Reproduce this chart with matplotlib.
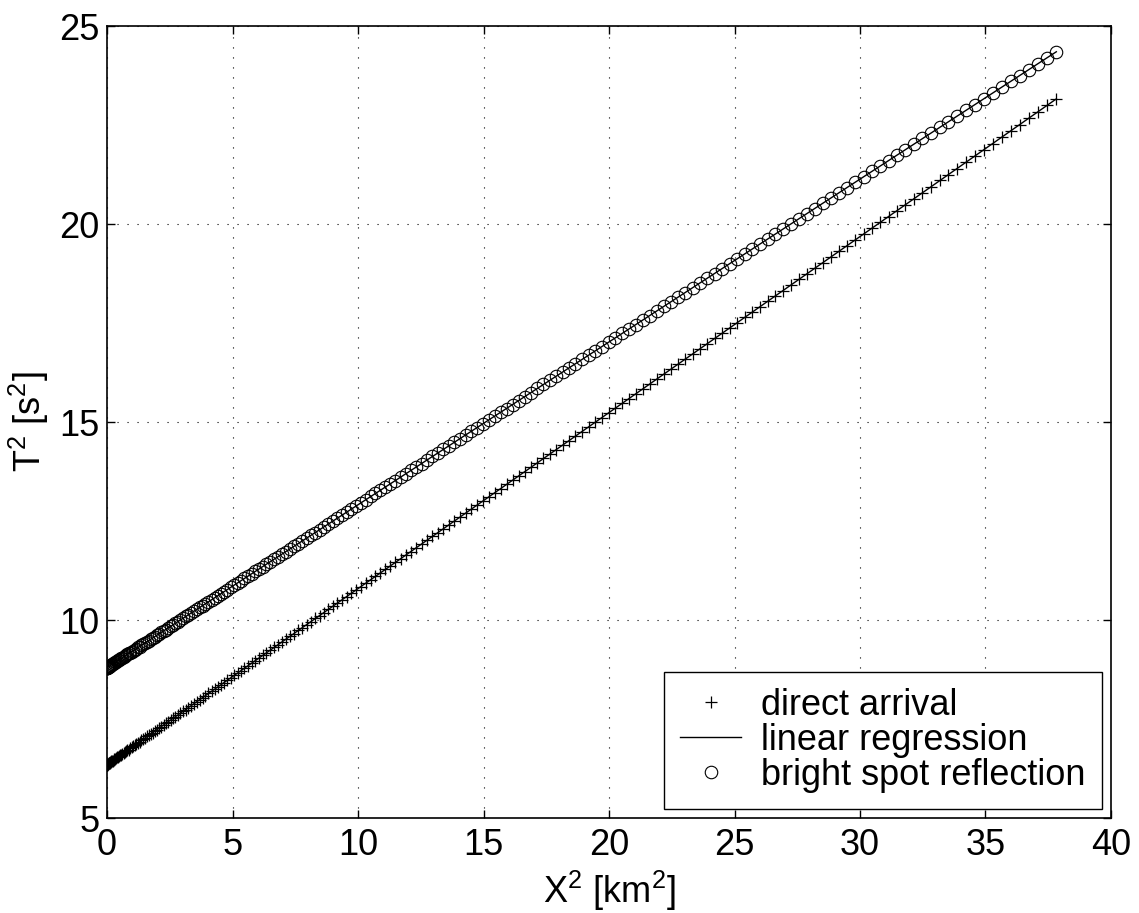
import numpy as np
import matplotlib
matplotlib.use("Agg")
import matplotlib.pyplot as plt

# =============================
# Data
# =============================
# source-receiver offsets [km]
offset_km = [
    0.00, 0.03, 0.06, 0.09, 0.12, 0.15, 0.18, 0.21, 0.24, 0.27,
    0.30, 0.33, 0.36, 0.39, 0.42, 0.45, 0.48, 0.51, 0.54, 0.57,
    0.60, 0.63, 0.66, 0.69, 0.72, 0.75, 0.78, 0.81, 0.84, 0.87,
    0.90, 0.93, 0.96, 0.99, 1.02, 1.05, 1.08, 1.11, 1.14, 1.17,
    1.20, 1.23, 1.26, 1.29, 1.32, 1.35, 1.38, 1.41, 1.44, 1.47,
    1.50, 1.53, 1.56, 1.59, 1.62, 1.65, 1.68, 1.71, 1.74, 1.77,
    1.80, 1.83, 1.86, 1.89, 1.92, 1.95, 1.98, 2.01, 2.04, 2.07,
    2.10, 2.13, 2.16, 2.19, 2.22, 2.25, 2.28, 2.31, 2.34, 2.37,
    2.40, 2.43, 2.46, 2.49, 2.52, 2.55, 2.58, 2.61, 2.64, 2.67,
    2.70, 2.73, 2.76, 2.79, 2.82, 2.85, 2.88, 2.91, 2.94, 2.97,
    3.00, 3.03, 3.06, 3.09, 3.12, 3.15, 3.18, 3.21, 3.24, 3.27,
    3.30, 3.33, 3.36, 3.39, 3.42, 3.45, 3.48, 3.51, 3.54, 3.57,
    3.60, 3.63, 3.66, 3.69, 3.72, 3.75, 3.78, 3.81, 3.84, 3.87,
    3.90, 3.93, 3.96, 3.99, 4.02, 4.05, 4.08, 4.11, 4.14, 4.17,
    4.20, 4.23, 4.26, 4.29, 4.32, 4.35, 4.38, 4.41, 4.44, 4.47,
    4.50, 4.53, 4.56, 4.59, 4.62, 4.65, 4.68, 4.71, 4.74, 4.77,
    4.80, 4.83, 4.86, 4.89, 4.92, 4.95, 4.98, 5.01, 5.04, 5.07,
    5.10, 5.13, 5.16, 5.19, 5.22, 5.25, 5.28, 5.31, 5.34, 5.37,
    5.40, 5.43, 5.46, 5.49, 5.52, 5.55, 5.58, 5.61, 5.64, 5.67,
    5.70, 5.73, 5.76, 5.79, 5.82, 5.85, 5.88, 5.91, 5.94, 5.97,
    6.00, 6.03, 6.06, 6.09, 6.12, 6.15,
]

# direct arrival T^2 [s^2]
direct_t2 = [
    6.35, 6.35, 6.35, 6.35, 6.36, 6.36, 6.36, 6.37, 6.38, 6.38,
    6.39, 6.40, 6.41, 6.42, 6.43, 6.44, 6.45, 6.47, 6.48, 6.49,
    6.51, 6.53, 6.54, 6.56, 6.58, 6.60, 6.62, 6.64, 6.66, 6.69,
    6.71, 6.73, 6.76, 6.79, 6.81, 6.84, 6.87, 6.90, 6.93, 6.96,
    6.99, 7.02, 7.06, 7.09, 7.12, 7.16, 7.20, 7.23, 7.27, 7.31,
    7.35, 7.39, 7.43, 7.47, 7.52, 7.56, 7.60, 7.65, 7.70, 7.74,
    7.79, 7.84, 7.89, 7.94, 7.99, 8.04, 8.09, 8.15, 8.20, 8.25,
    8.31, 8.37, 8.42, 8.48, 8.54, 8.60, 8.66, 8.72, 8.78, 8.85,
    8.91, 8.97, 9.04, 9.11, 9.17, 9.24, 9.31, 9.38, 9.45, 9.52,
    9.59, 9.66, 9.74, 9.81, 9.88, 9.96, 10.04, 10.11, 10.19, 10.27,
    10.35, 10.43, 10.51, 10.59, 10.68, 10.76, 10.84, 10.93, 11.02, 11.10,
    11.19, 11.28, 11.37, 11.46, 11.55, 11.64, 11.73, 11.83, 11.92, 12.01,
    12.11, 12.21, 12.30, 12.40, 12.50, 12.60, 12.70, 12.80, 12.90, 13.01,
    13.11, 13.21, 13.32, 13.43, 13.53, 13.64, 13.75, 13.86, 13.97, 14.08,
    14.19, 14.30, 14.42, 14.53, 14.64, 14.76, 14.88, 14.99, 15.11, 15.23,
    15.35, 15.47, 15.59, 15.71, 15.84, 15.96, 16.08, 16.21, 16.34, 16.46,
    16.59, 16.72, 16.85, 16.98, 17.11, 17.24, 17.37, 17.51, 17.64, 17.77,
    17.91, 18.05, 18.18, 18.32, 18.46, 18.60, 18.74, 18.88, 19.02, 19.17,
    19.31, 19.45, 19.60, 19.75, 19.89, 20.04, 20.19, 20.34, 20.49, 20.64,
    20.79, 20.94, 21.10, 21.25, 21.40, 21.56, 21.72, 21.87, 22.03, 22.19,
    22.35, 22.51, 22.67, 22.83, 23.00, 23.16,
]

# bright spot reflection T^2 [s^2]
bright_t2 = [
    8.80, 8.80, 8.80, 8.80, 8.81, 8.81, 8.81, 8.82, 8.82, 8.83,
    8.84, 8.84, 8.85, 8.86, 8.87, 8.88, 8.89, 8.91, 8.92, 8.93,
    8.95, 8.96, 8.98, 9.00, 9.01, 9.03, 9.05, 9.07, 9.09, 9.11,
    9.13, 9.16, 9.18, 9.20, 9.23, 9.25, 9.28, 9.31, 9.33, 9.36,
    9.39, 9.42, 9.45, 9.48, 9.52, 9.55, 9.58, 9.62, 9.65, 9.69,
    9.73, 9.76, 9.80, 9.84, 9.88, 9.92, 9.96, 10.00, 10.04, 10.09,
    10.13, 10.18, 10.22, 10.27, 10.32, 10.36, 10.41, 10.46, 10.51, 10.56,
    10.61, 10.67, 10.72, 10.77, 10.83, 10.88, 10.94, 10.99, 11.05, 11.11,
    11.17, 11.23, 11.29, 11.35, 11.41, 11.47, 11.54, 11.60, 11.67, 11.73,
    11.80, 11.86, 11.93, 12.00, 12.07, 12.14, 12.21, 12.28, 12.35, 12.43,
    12.50, 12.57, 12.65, 12.73, 12.80, 12.88, 12.96, 13.04, 13.12, 13.20,
    13.28, 13.36, 13.44, 13.52, 13.61, 13.69, 13.78, 13.86, 13.95, 14.04,
    14.13, 14.22, 14.31, 14.40, 14.49, 14.58, 14.67, 14.77, 14.86, 14.96,
    15.05, 15.15, 15.25, 15.34, 15.44, 15.54, 15.64, 15.74, 15.85, 15.95,
    16.05, 16.16, 16.26, 16.37, 16.47, 16.58, 16.69, 16.80, 16.90, 17.01,
    17.13, 17.24, 17.35, 17.46, 17.57, 17.69, 17.80, 17.92, 18.04, 18.15,
    18.27, 18.39, 18.51, 18.63, 18.75, 18.87, 19.00, 19.12, 19.24, 19.37,
    19.49, 19.62, 19.75, 19.87, 20.00, 20.13, 20.26, 20.39, 20.52, 20.66,
    20.79, 20.92, 21.06, 21.19, 21.33, 21.46, 21.60, 21.74, 21.88, 22.02,
    22.16, 22.30, 22.44, 22.58, 22.73, 22.87, 23.01, 23.16, 23.31, 23.45,
    23.60, 23.75, 23.90, 24.05, 24.20, 24.35,
]

x_ticks = [0, 5, 10, 15, 20, 25, 30, 35, 40]
y_ticks = [5, 10, 15, 20, 25]

# =============================
# Style (MATLAB-like)
# =============================
plt.rcParams["font.family"] = ["Liberation Sans", "DejaVu Sans"]
plt.rcParams["mathtext.fontset"] = "custom"
plt.rcParams["mathtext.rm"] = "Liberation Sans"
plt.rcParams["mathtext.it"] = "Liberation Sans:italic"
plt.rcParams["mathtext.bf"] = "Liberation Sans:bold"

FS = 26

x2 = np.array(offset_km) ** 2
direct = np.array(direct_t2)
bright = np.array(bright_t2)

fig = plt.figure(figsize=(11.39, 9.13), dpi=100)
ax = fig.add_axes([0.094, 0.104, 0.8814, 0.8675])

# direct arrival + regression
ax.plot(x2, direct, linestyle="none", marker="+", color="k",
        markersize=9, markeredgewidth=0.9, label="direct arrival")
p_direct = np.polyfit(x2, direct, 1)
ax.plot(x2, np.polyval(p_direct, x2), color="k", linewidth=1.0,
        label="linear regression")

# bright spot reflection + regression
ax.plot(x2, bright, linestyle="none", marker="o", color="k",
        markerfacecolor="none", markersize=9, markeredgewidth=0.8,
        label="bright spot reflection")
p_bright = np.polyfit(x2, bright, 1)
ax.plot(x2, np.polyval(p_bright, x2), color="k", linewidth=1.0)

ax.set_xlim(0, 40)
ax.set_ylim(5, 25)
ax.set_xticks(x_ticks)
ax.set_yticks(y_ticks)
ax.tick_params(direction="in", top=True, right=True, labelsize=FS,
               length=6, width=1.0)
ax.tick_params(axis="x", pad=7)
ax.tick_params(axis="y", pad=5.5)
ax.grid(True, color="k", linestyle=(0, (1, 8)), linewidth=0.8)
for s in ax.spines.values():
    s.set_linewidth(1.2)

ax.set_xlabel(r"X$^{2}$ [km$^{2}$]", fontsize=FS, labelpad=4)
ax.set_ylabel(r"T$^{2}$ [s$^{2}$]", fontsize=FS, labelpad=6)

leg = ax.legend(loc="lower right", fontsize=FS, frameon=True, fancybox=False,
                edgecolor="k", framealpha=1, borderpad=0.45, handlelength=1.7,
                labelspacing=0.0, handletextpad=0.55, borderaxespad=0.25)
leg.get_frame().set_linewidth(1.0)

fig.savefig("out.png", dpi=100, facecolor="white")
plt.close(fig)
